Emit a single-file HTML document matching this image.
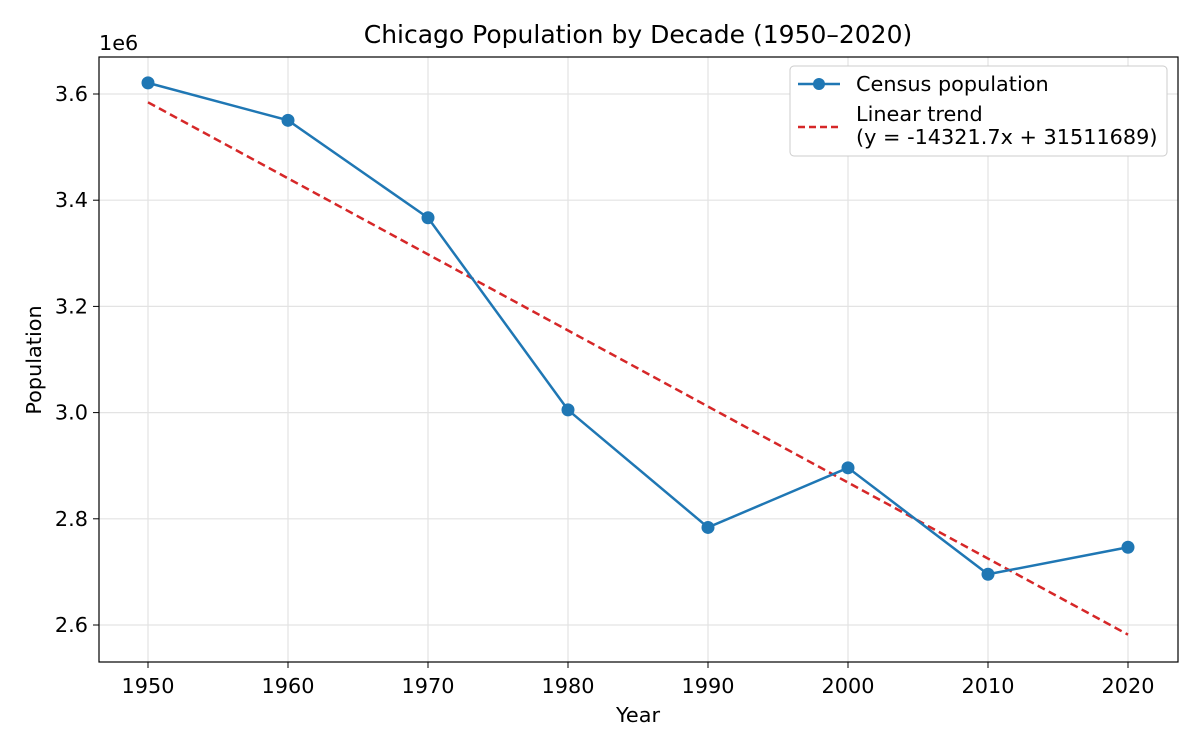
<!DOCTYPE html>
<html><head><meta charset="utf-8"><style>
body{margin:0;background:#fff;}
svg{font-family:"DejaVu Sans","Liberation Sans",sans-serif;}
</style></head><body>
<svg id="chart" width="1200" height="750">
<rect width="1200" height="750" fill="#fff"/>
<text x="638" y="43" text-anchor="middle" font-size="25">Chicago Population by Decade (1950–2020)</text>
<g id="grid"></g>
<g id="axes"></g>
<g id="series"></g>
<text x="638" y="722" text-anchor="middle" font-size="20.8">Year</text>
<text x="41" y="360" text-anchor="middle" font-size="20.8" transform="rotate(-90 41 360)">Population</text>
<text x="99" y="50" font-size="20.8">1e6</text>
<g>
<rect x="790" y="66" width="377" height="90" rx="4" fill="#fff" stroke="#ccc"/>
<line x1="798" y1="84" x2="840" y2="84" stroke="#1f77b4" stroke-width="2.5"/>
<circle cx="819" cy="84" r="6" fill="#1f77b4"/>
<text x="856" y="91" font-size="20.8">Census population</text>
<line x1="798" y1="127" x2="840" y2="127" stroke="#d62728" stroke-width="2.5" stroke-dasharray="7,4"/>
<text x="856" y="121" font-size="20.8">Linear trend</text>
<text x="856" y="144" font-size="20.8">(y = -14321.7x + 31511689)</text>
</g>
</svg>
<script>
const years=[1950,1960,1970,1980,1990,2000,2010,2020];
const population=[3620962,3550404,3366957,3005072,2783726,2896016,2695598,2746388];
const slope=-14321.7, intercept=31511689;
const yTicks=[2.6,2.8,3.0,3.2,3.4,3.6];
const NS="http://www.w3.org/2000/svg";
const xs=y=>148+(y-1950)*14;
const ys=v=>94+(3.6e6-v)*531/1e6;
function mk(tag,attrs,parent){const e=document.createElementNS(NS,tag);for(const k in attrs)e.setAttribute(k,attrs[k]);document.getElementById(parent).appendChild(e);return e;}
years.forEach(y=>{
 const g=mk('line',{x1:xs(y),x2:xs(y),y1:57,y2:662,stroke:'#e3e3e3','stroke-width':1.2},'grid');
 
 
 mk('line',{x1:xs(y),x2:xs(y),y1:662,y2:668,stroke:'#000'},'axes');
 const t=mk('text',{x:xs(y),y:693,'text-anchor':'middle','font-size':20.8},'axes');t.textContent=y;
 
 
});
yTicks.forEach(v=>{
 const Y=ys(v*1e6);
 const g=mk('line',{x1:99,x2:1178,y1:Y,y2:Y,stroke:'#e3e3e3','stroke-width':1.2},'grid');
 
 
 mk('line',{x1:93,x2:99,y1:Y,y2:Y,stroke:'#000'},'axes');
 const t=mk('text',{x:88,y:Y+7,'text-anchor':'end','font-size':20.8},'axes');t.textContent=v.toFixed(1);
 
 
});
const fr=mk('rect',{x:99,y:57,width:1079,height:605,fill:'none',stroke:'#000','stroke-width':1.2},'axes');


const tl=mk('line',{x1:xs(years[0]),y1:ys(slope*years[0]+intercept),x2:xs(years[years.length-1]),y2:ys(slope*years[years.length-1]+intercept),stroke:'#d62728','stroke-width':2.5,'stroke-dasharray':'8,4.5'},'series');


const pl=mk('polyline',{points:years.map((y,i)=>xs(y)+','+ys(population[i])).join(' '),fill:'none',stroke:'#1f77b4','stroke-width':2.5},'series');


years.forEach((y,i)=>{
 const c=mk('circle',{cx:xs(y),cy:ys(population[i]),r:6.5,fill:'#1f77b4'},'series');
 
 
});
</script>
</body></html>
